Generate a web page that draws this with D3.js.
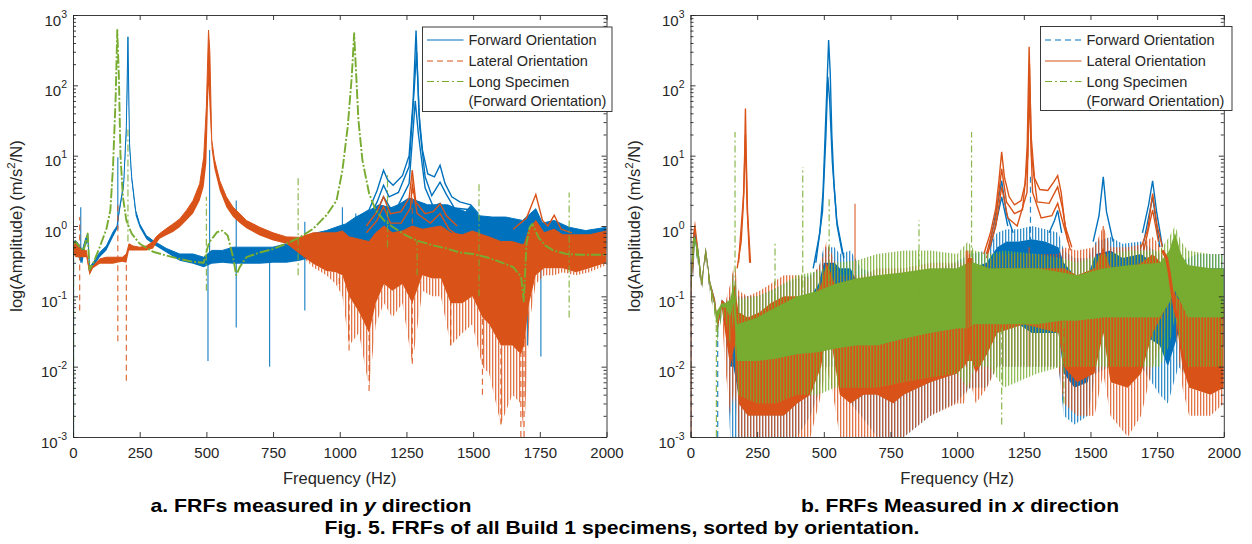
<!DOCTYPE html>
<html><head><meta charset="utf-8">
<script src="https://cdn.jsdelivr.net/npm/d3@7"></script>
<style>
body{margin:0;background:#fff;}
svg{display:block;font-family:"Liberation Sans",Arial,Helvetica,sans-serif;}
</style></head><body>
<svg id="c" width="1252" height="544"></svg>
<script>
// ---------------- DATA ----------------
const xTicks = [0,250,500,750,1000,1250,1500,1750,2000];
const yExps = [-3,-2,-1,0,1,2,3];
const seriesNames = ["Forward Orientation","Lateral Orientation","Long Specimen","(Forward Orientation)"];
const captionA = ["a. FRFs measured in ","y"," direction"];
const captionB = ["b. FRFs Measured in ","x"," direction"];
const captionFig = "Fig. 5. FRFs of all Build 1 specimens, sorted by orientation.";

// Panel a: bands [freq, lowSparse, lowDense, high]
const aFwdBand = [
 [2,0.40,0.40,0.60],[10,0.45,0.45,0.62],[20,0.36,0.36,0.56],[35,0.29,0.29,0.45],[45,0.50,0.50,0.62],
 [55,0.60,0.60,0.78],[62,0.21,0.21,0.26],[75,0.26,0.26,0.30],[100,0.36,0.36,0.42],[125,0.45,0.45,0.52],
 [150,0.70,0.70,0.82],[165,0.90,0.90,1.0],[175,1.6,1.6,1.85],[190,3.5,3.5,4.0],[200,18,18,26],
 [206,195,195,490],[212,12,12,14.7],[220,4.2,4.2,5],[235,1.4,1.4,1.66],[250,0.95,0.95,1.07],
 [275,0.65,0.65,0.73],[300,0.55,0.55,0.62],[350,0.42,0.42,0.48],[400,0.32,0.32,0.40],[450,0.29,0.29,0.40],
 [490,0.26,0.26,0.36],[520,0.29,0.29,0.45],[560,0.30,0.30,0.45],[600,0.29,0.29,0.50],[650,0.29,0.29,0.50],
 [700,0.29,0.29,0.50],[750,0.30,0.30,0.50],[800,0.30,0.30,0.56],[850,0.32,0.32,0.62],[900,0.36,0.36,0.78],
 [950,0.36,0.36,0.86],[985,0.40,0.40,0.96],[1022,0.36,0.36,1.07],[1060,0.45,0.45,1.34],[1110,0.5,0.5,1.66],
 [1147,0.5,0.5,2.0],[1200,0.5,0.5,1.8],[1260,0.5,0.5,2.5],[1330,0.5,0.5,2.0],[1404,0.5,0.5,2.0],
 [1435,0.5,0.5,1.8],[1472,0.45,0.45,1.6],[1491,0.5,0.5,1.95],[1522,0.45,0.45,1.4],[1572,0.40,0.40,1.34],
 [1622,0.38,0.38,1.34],[1685,0.38,0.38,1.2],[1735,0.5,0.5,1.76],[1760,0.42,0.42,1.1],[1804,0.45,0.45,1.2],
 [1860,0.40,0.40,0.96],[1922,0.35,0.35,0.86],[2000,0.45,0.45,0.96]
];
const aFwdRes1 = [[1060,1.3],[1110,1.7],[1140,3.2],[1164,6.2],[1180,4.5],[1200,3.8],[1235,5.2],[1260,10],[1275,60],[1286,600],[1297,40],[1310,12],[1330,5.5],[1355,5],[1376,7.3],[1395,4],[1420,2.6],[1450,2.2],[1491,2.0],[1520,1.5]];
const aFwdRes2 = [[1060,1.0],[1110,1.3],[1140,2.2],[1164,3.8],[1185,2.6],[1220,3],[1260,7],[1280,100],[1288,300],[1300,25],[1320,5],[1345,2.7],[1376,4.2],[1400,2.8],[1430,1.8],[1491,1.7],[1520,1.3]];
const aFwdRes3 = [[1060,0.8],[1110,1.0],[1140,1.6],[1164,2.6],[1190,1.8],[1220,2],[1260,4],[1283,60],[1295,20],[1320,3.5],[1350,1.9],[1376,2.1],[1410,1.5],[1450,1.2],[1520,1.0]];
const aFwdSpikes = [[2,0.001,0.5],[29,0.3,1.85],[168,0.9,9.5],[506,0.012,0.4],[512,0.3,12],[612,0.036,2.3],[737,0.01,0.4],[869,0.063,1.15],[1010,0.4,1.85],[1060,0.4,1.5],[1704,0.02,0.5],[1754,0.014,0.5]];

const aLatBand = [
 [2,0.40,0.40,0.60],[10,0.36,0.36,0.56],[20,0.36,0.36,0.5],[35,0.36,0.36,0.45],[50,0.36,0.36,0.45],
 [62,0.20,0.20,0.22],[75,0.25,0.25,0.27],[100,0.29,0.29,0.34],[125,0.29,0.29,0.36],[150,0.29,0.29,0.36],
 [165,0.30,0.30,0.36],[185,0.31,0.31,0.36],[200,0.3,0.3,0.4],[210,0.45,0.45,0.56],[225,0.45,0.45,0.52],
 [250,0.45,0.45,0.50],[275,0.45,0.45,0.52],[300,0.48,0.48,0.60],[310,0.55,0.55,0.69],[325,0.66,0.66,0.78],
 [350,0.74,0.74,0.92],[375,0.82,0.82,1.07],[400,0.96,0.96,1.26],[425,1.2,1.2,1.66],[450,1.5,1.5,2.3],
 [475,2.3,2.3,4.0],[490,3.6,3.6,9.5],[500,8,8,50],[508,100,100,611],[513,40,40,300],[520,12,12,17],
 [530,6.5,6.5,9],[550,3.2,3.2,4.4],[575,1.85,1.85,2.6],[600,1.34,1.34,1.85],[625,1.1,1.1,1.5],
 [650,0.93,0.93,1.2],[700,0.73,0.73,0.96],[750,0.62,0.62,0.80],[800,0.56,0.56,0.70],[850,0.40,0.40,0.69],
 [900,0.26,0.29,0.8],[950,0.2,0.23,0.8],[985,0.15,0.22,0.8],[1010,0.1,0.2,0.85],[1035,0.02,0.1,0.7],
 [1072,0.03,0.06,0.65],[1110,0.005,0.03,0.6],[1135,0.04,0.08,0.8],[1166,0.08,0.15,1.0],[1197,0.05,0.12,0.8],
 [1235,0.08,0.15,0.85],[1272,0.011,0.08,1.0],[1310,0.12,0.2,0.9],[1347,0.1,0.18,0.95],[1379,0.1,0.18,1.0],
 [1416,0.02,0.08,0.8],[1460,0.03,0.08,0.75],[1497,0.04,0.1,0.85],[1535,0.01,0.05,0.75],[1560,0.008,0.04,0.7],
 [1604,0.0015,0.02,0.6],[1647,0.004,0.02,0.6],[1679,0.003,0.015,0.55],[1691,0.001,0.02,0.55],[1710,0.04,0.08,0.9],
 [1735,0.15,0.2,1.2],[1766,0.2,0.25,0.8],[1804,0.2,0.25,0.9],[1835,0.22,0.25,0.75],[1885,0.2,0.22,0.75],
 [1935,0.22,0.25,0.75],[2000,0.28,0.3,0.85]
];
const aLatRes1 = [[1100,1.0],[1140,1.6],[1164,2.6],[1190,1.5],[1230,1.6],[1260,2.5],[1272,6.2],[1285,2.2],[1320,1.5],[1350,1.6],[1376,2.07],[1400,1.4],[1440,1.0]];
const aLatRes2 = [[1100,0.8],[1140,1.2],[1164,1.9],[1190,1.1],[1230,1.1],[1265,1.8],[1272,4],[1290,1.5],[1340,1.1],[1376,1.5],[1410,0.9],[1440,0.75]];
const aLatRes3 = [[1650,0.9],[1700,1.3],[1735,2.8],[1760,1.2],[1780,1.0],[1804,1.42],[1830,0.9],[1870,0.8]];
const aLatSpikes = [[25,0.063,1.34],[168,0.023,2.07],[200,0.0063,0.4],[998,0.15,0.4],[1035,0.017,0.3],[1110,0.0045,0.3],[1272,0.011,6.2],[1416,0.02,0.5],[1535,0.004,0.5],[1604,0.0015,0.5],[1679,0.001,0.5],[1691,0.001,0.5]];

const aLongLine = [
 [2,0.55],[10,0.6],[25,0.5],[40,0.45],[55,0.78],[62,0.24],[75,0.29],[100,0.5],[125,0.9],[140,1.66],
 [150,6.9],[160,70],[166,611],[172,132],[178,10],[187,2.6],[200,1.2],[220,0.78],[250,0.56],[300,0.43],
 [350,0.38],[400,0.34],[450,0.31],[490,0.3],[505,0.5],[512,0.6],[525,0.69],[540,0.82],[560,0.86],
 [580,0.73],[600,0.36],[612,0.2],[625,0.26],[650,0.36],[700,0.42],[750,0.47],[800,0.56],[850,0.69],
 [900,0.91],[950,1.42],[988,2.3],[1010,6.2],[1030,26],[1045,132],[1054,550],[1062,132],[1070,32],
 [1085,8.6],[1110,2.9],[1135,1.66],[1166,1.2],[1200,0.96],[1250,0.73],[1290,0.62],[1350,0.53],[1400,0.48],
 [1450,0.42],[1500,0.40],[1550,0.36],[1600,0.31],[1650,0.26],[1680,0.19],[1690,0.085],[1700,0.56],
 [1712,0.96],[1722,1.07],[1745,0.69],[1770,0.53],[1800,0.45],[1850,0.40],[1900,0.39],[2000,0.39]
];
const aLongSpikes = [[2,0.001,0.55],[206,0.6,26],[500,0.12,2.6],[844,0.2,5],[1179,0.5,5.5],[1290,0.2,0.62],[1522,0.1,4.2],[1860,0.05,3]];

// Panel b: bands [freq, lowSparse, lowDense, highDense, highSparse]
const bFwdBand = [
 [2,0.1,0.12,0.2,0.2],[10,0.2,0.3,0.7,0.7],[17,0.5,0.6,0.9,0.9],[30,0.25,0.3,0.45,0.45],[42,0.12,0.14,0.17,0.17],
 [57,0.35,0.42,0.5,0.5],[74,0.1,0.13,0.16,0.16],[92,0.06,0.07,0.09,0.09],[102,0.03,0.035,0.04,0.04],
 [117,0.05,0.07,0.09,0.09],[130,0.04,0.06,0.08,0.08],[149,0.001,0.01,0.06,0.1],[161,0.001,0.01,0.1,0.23],
 [180,0.001,0.004,0.04,0.1],[250,0.001,0.003,0.04,0.1],[300,0.001,0.003,0.05,0.12],[350,0.001,0.003,0.06,0.15],
 [400,0.001,0.004,0.08,0.18],[450,0.002,0.006,0.1,0.2],[480,0.004,0.01,0.15,0.25],[500,0.01,0.03,0.3,0.5],
 [540,0.01,0.03,0.3,0.5],[560,0.005,0.015,0.25,0.4],[600,0.003,0.01,0.25,0.45],[640,0.002,0.008,0.12,0.25],
 [700,0.001,0.005,0.1,0.2],[800,0.001,0.005,0.1,0.2],[900,0.002,0.006,0.12,0.22],[990,0.003,0.01,0.18,0.3],
 [1050,0.005,0.02,0.25,0.4],[1110,0.005,0.02,0.3,0.45],[1150,0.01,0.03,0.5,0.8],[1185,0.01,0.04,0.6,0.9],
 [1230,0.01,0.04,0.6,0.9],[1280,0.01,0.03,0.65,1.0],[1330,0.01,0.03,0.6,0.9],[1380,0.01,0.03,0.5,0.8],
 [1400,0.002,0.008,0.3,0.45],[1440,0.0015,0.005,0.2,0.35],[1490,0.002,0.006,0.2,0.35],[1520,0.008,0.03,0.4,0.6],
 [1575,0.01,0.03,0.45,0.7],[1620,0.01,0.03,0.35,0.56],[1690,0.01,0.03,0.4,0.6],[1760,0.004,0.02,0.25,0.4],
 [1790,0.003,0.01,0.15,0.3],[1830,0.01,0.03,0.2,0.3],[1900,0.005,0.02,0.25,0.4],[2000,0.005,0.02,0.25,0.4]
];
const bFwdRes1 = [[460,0.25],[485,0.8],[497,3],[505,20],[511,80],[518,440],[524,150],[530,20],[538,4],[550,1.0],[570,0.4]];
const bFwdRes2 = [[470,0.3],[495,1.6],[508,20],[515,132],[522,60],[532,8],[548,1.2],[575,0.35]];
const bFwdRes3 = [[1120,0.5],[1145,1.5],[1167,4.4],[1185,1.5],[1210,0.8]];
const bFwdRes4 = [[1125,0.5],[1150,1.3],[1167,2.6],[1190,1.0]];
const bFwdRes5 = [[1345,0.8],[1365,1.2],[1377,1.66],[1392,0.8]];
const bFwdRes6 = [[1510,0.6],[1532,1.4],[1548,5],[1560,1.6],[1585,0.6]];
const bFwdRes7 = [[1695,0.8],[1718,2.0],[1733,4.4],[1748,1.6],[1770,0.5]];
const bFwdRes8 = [[1700,0.6],[1733,2.6],[1760,0.5]];
const bFwdSpikes = [[2,0.001,0.2],[102,0.001,0.04],[1275,0.3,5.2]];

const bLatBand = [
 [2,0.1,0.12,0.2,0.2],[10,0.2,0.3,0.8,0.8],[17,0.6,0.8,1.2,1.2],[30,0.25,0.3,0.45,0.45],[42,0.12,0.14,0.17,0.17],
 [57,0.35,0.42,0.5,0.5],[74,0.1,0.13,0.16,0.16],[92,0.06,0.07,0.09,0.09],[102,0.03,0.035,0.045,0.045],
 [117,0.06,0.07,0.09,0.09],[130,0.01,0.03,0.08,0.08],[149,0.002,0.01,0.08,0.15],[165,0.005,0.02,0.15,0.3],
 [180,0.001,0.003,0.06,0.12],[215,0.001,0.002,0.05,0.1],[260,0.001,0.002,0.06,0.12],[300,0.001,0.002,0.08,0.15],
 [350,0.001,0.002,0.1,0.2],[400,0.001,0.003,0.1,0.2],[450,0.001,0.004,0.08,0.18],[490,0.004,0.01,0.15,0.3],
 [510,0.01,0.03,0.3,0.6],[530,0.005,0.02,0.2,0.4],[560,0.001,0.004,0.08,0.2],[600,0.001,0.003,0.08,0.2],
 [650,0.001,0.004,0.1,0.2],[700,0.001,0.004,0.12,0.25],[760,0.001,0.003,0.12,0.25],[800,0.001,0.004,0.12,0.25],
 [900,0.002,0.006,0.15,0.3],[1000,0.003,0.008,0.15,0.3],[1025,0.003,0.01,0.2,0.3],[1040,0.005,0.012,0.35,0.45],
 [1055,0.005,0.012,0.35,0.45],[1070,0.003,0.008,0.12,0.25],[1112,0.005,0.015,0.15,0.3],[1150,0.01,0.03,0.25,0.4],
 [1250,0.01,0.04,0.25,0.4],[1380,0.01,0.03,0.25,0.4],[1400,0.003,0.01,0.25,0.5],[1450,0.002,0.006,0.2,0.45],
 [1515,0.002,0.008,0.25,0.5],[1548,0.008,0.03,0.5,1.0],[1575,0.002,0.006,0.25,0.5],[1640,0.001,0.005,0.25,0.5],
 [1690,0.002,0.008,0.3,0.55],[1733,0.01,0.03,0.4,0.7],[1765,0.02,0.05,0.3,0.5],[1790,0.05,0.08,0.25,0.35],
 [1805,0.08,0.1,0.2,0.3],[1820,0.03,0.05,0.1,0.15],[1845,0.005,0.01,0.08,0.12],[1870,0.002,0.005,0.06,0.1],
 [1950,0.002,0.004,0.08,0.12],[2000,0.003,0.005,0.08,0.12]
];
const bLatRes1 = [[1100,0.4],[1125,0.8],[1145,1.8],[1157,4.5],[1167,11.3],[1177,5],[1195,2.6],[1215,2.0],[1240,2.3],[1255,4],[1263,15],[1270,354],[1277,20],[1290,4.8],[1310,3.3],[1340,3.2],[1362,4.2],[1377,5.2],[1390,3],[1405,1.0],[1430,0.5]];
const bLatRes2 = [[1110,0.4],[1145,1.3],[1167,6.5],[1185,2.2],[1215,1.5],[1245,1.7],[1265,10],[1271,200],[1279,10],[1300,2.2],[1345,2.1],[1377,3.6],[1395,1.8],[1415,0.6]];
const bLatRes3 = [[1110,0.35],[1145,1.0],[1167,3.6],[1190,1.3],[1225,1.0],[1262,3],[1270,80],[1283,3],[1315,1.3],[1355,1.4],[1377,2.1],[1400,1.0],[1425,0.45]];
const bLatRes4 = [[1690,0.5],[1715,0.9],[1733,2.9],[1750,1.0],[1770,0.5]];
const bLatRes5 = [[1700,0.45],[1733,1.7],[1755,0.6]];
const bLatRes6 = [[175,0.25],[190,0.6],[198,2],[203,10],[206,47],[209,10],[214,1.5],[225,0.3]];
const bLatRes7 = [[180,0.3],[200,3],[206,20],[212,2],[222,0.3]];
const bLatSpikes = [[2,0.001,0.2],[617,0.05,2.07],[1270,0.01,0.5],[1548,0.04,1.0]];
// orange parts that sit in front of the green mass
const bLatFront = [[1770,0.45],[1785,0.35],[1795,0.22],[1805,0.12],[1815,0.07],[1825,0.05]];
const bLatFrontSpikes = [[1034,0.01,0.45],[1040,0.012,0.45],[1046,0.015,0.4],[1052,0.02,0.35]];

const bLongBand = [
 [2,0.1,0.12,0.2,0.2],[10,0.3,0.4,0.69,0.69],[17,0.5,0.6,0.69,0.69],[30,0.25,0.3,0.45,0.45],[42,0.12,0.14,0.17,0.17],
 [57,0.35,0.42,0.5,0.5],[74,0.1,0.13,0.16,0.16],[92,0.05,0.07,0.08,0.08],[97,0.02,0.04,0.06,0.06],
 [117,0.05,0.07,0.08,0.08],[130,0.05,0.07,0.08,0.08],[149,0.02,0.05,0.09,0.09],[161,0.05,0.08,0.15,0.23],
 [175,0.004,0.012,0.04,0.09],[250,0.003,0.012,0.05,0.1],[320,0.003,0.013,0.07,0.13],[400,0.004,0.015,0.1,0.2],
 [480,0.004,0.016,0.12,0.23],[540,0.005,0.018,0.15,0.3],[620,0.005,0.02,0.18,0.32],[700,0.005,0.02,0.2,0.4],
 [800,0.006,0.025,0.22,0.45],[900,0.007,0.03,0.25,0.45],[1000,0.008,0.035,0.25,0.4],[1040,0.005,0.035,0.3,0.6],
 [1065,0.01,0.04,0.3,0.45],[1120,0.01,0.04,0.25,0.4],[1175,0.005,0.04,0.25,0.45],[1300,0.008,0.04,0.25,0.4],
 [1390,0.01,0.045,0.22,0.35],[1450,0.01,0.045,0.2,0.3],[1550,0.01,0.05,0.25,0.4],[1650,0.01,0.05,0.28,0.45],
 [1760,0.01,0.05,0.3,0.45],[1795,0.02,0.08,0.45,0.7],[1817,0.05,0.12,0.8,1.0],[1840,0.02,0.08,0.4,0.6],
 [1865,0.01,0.05,0.28,0.45],[1950,0.01,0.05,0.25,0.4],[2000,0.01,0.05,0.25,0.4]
];
const bLongSpikes = [[97,0.001,0.06],[167,0.05,21.7],[317,0.02,0.56],[421,0.05,6.9],[520,0.1,2.6],[857,0.1,1.2],[1054,0.05,21.7],[1167,0.0015,0.2],[1400,0.003,0.1]];

// ---------------- STYLE / LAYOUT ----------------
const COL = {fwd:"#0072BD", lat:"#D95319", long:"#77AC30"};
const DASH = {solid:null, dash:"6,4", dashdot:"7,3,2,3", densedashdot:"10,2,2,2"};
const AX = "#262626";
const svg = d3.select("#c");
const defs = svg.append("defs");
const yTop = 15, yBot = 437;

Object.entries(COL).forEach(([k,c])=>{
  const p = defs.append("pattern").attr("id","hatch-"+k).attr("patternUnits","userSpaceOnUse")
    .attr("width",3).attr("height",12);
  p.append("rect").attr("x",0).attr("y",0).attr("width",1.3).attr("height",12).attr("fill",c).attr("fill-opacity",0.8);
});
const keyOf = c => Object.keys(COL).find(k=>COL[k]===c);

const panels = [
 {key:"a", x0:73, x1:606.5, ylab:22,
  legend:{x:422.5, y:27, w:189.5, h:84.5, styles:["solid","dash","dashdot"]},
  layers:[
   {c:COL.fwd, band:aFwdBand, lines:[aFwdRes3,aFwdRes2,aFwdRes1], spikes:aFwdSpikes, dash:"solid"},
   {c:COL.lat, band:aLatBand, lines:[aLatRes2,aLatRes1,aLatRes3], spikes:aLatSpikes, dash:"dash"},
   {c:COL.long, line:aLongLine, spikes:aLongSpikes, dash:"dashdot"}
  ]},
 {key:"b", x0:690.5, x1:1223.8, ylab:640,
  legend:{x:1040.5, y:26.5, w:191.5, h:84, styles:["dash","solid","dashdot"]},
  layers:[
   {c:COL.fwd, band:bFwdBand, lines:[bFwdRes1,bFwdRes2,bFwdRes3,bFwdRes4,bFwdRes5,bFwdRes6,bFwdRes7,bFwdRes8], spikes:bFwdSpikes, dash:"dash"},
   {c:COL.lat, band:bLatBand, lines:[bLatRes6,bLatRes7,bLatRes3,bLatRes2,bLatRes1,bLatRes4,bLatRes5], spikes:bLatSpikes, dash:"solid"},
   {c:COL.long, band:bLongBand, spikes:bLongSpikes, dash:"dashdot"},
   {c:COL.lat, lines:[bLatFront], lw:3, spikes:bLatFrontSpikes, dash:"solid"}
  ]}
];

panels.forEach(P=>{
  const x = d3.scaleLinear().domain([0,2000]).range([P.x0,P.x1]);
  const y = d3.scaleLog().domain([1e-3,1e3]).range([yBot,yTop]).clamp(true);
  defs.append("clipPath").attr("id","clip"+P.key).append("rect")
    .attr("x",P.x0).attr("y",yTop).attr("width",P.x1-P.x0).attr("height",yBot-yTop);
  const plot = svg.append("g").attr("clip-path",`url(#clip${P.key})`);

  P.layers.forEach(L=>{
    if(L.band){
      const rows = L.band.map(r=>r.length===4?[r[0],r[1],r[2],r[3],r[3]]:r);
      const mk = (a,b)=>d3.area().x(d=>x(d[0])).y0(d=>y(d[a])).y1(d=>y(d[b]))(rows);
      plot.append("path").attr("d",mk(1,2)).attr("fill",`url(#hatch-${keyOf(L.c)})`);
      plot.append("path").attr("d",mk(3,4)).attr("fill",`url(#hatch-${keyOf(L.c)})`);
      plot.append("path").attr("d",mk(2,3)).attr("fill",L.c);
      if(L.band[0].length===4)
        plot.append("path").attr("d",d3.line().x(d=>x(d[0])).y(d=>y(d[3]))(rows))
          .attr("fill","none").attr("stroke",L.c).attr("stroke-width",1);
    }
    (L.lines||[]).forEach(arr=>{
      plot.append("path").attr("d",d3.line().x(d=>x(d[0])).y(d=>y(d[1]))(arr))
        .attr("fill","none").attr("stroke",L.c).attr("stroke-width",L.lw||1.4);
    });
    if(L.line){
      plot.append("path").attr("d",d3.line().x(d=>x(d[0])).y(d=>y(d[1]))(L.line))
        .attr("fill","none").attr("stroke",L.c).attr("stroke-width",1.9).attr("stroke-linejoin","round")
        .attr("stroke-dasharray",DASH.densedashdot);
    }
    if(L.spikes){
      plot.selectAll(null).data(L.spikes).enter().append("line")
        .attr("x1",d=>x(d[0])).attr("x2",d=>x(d[0]))
        .attr("y1",d=>y(d[1])).attr("y2",d=>y(d[2]))
        .attr("stroke",L.c).attr("stroke-width",1.2).attr("stroke-opacity",0.85)
        .attr("stroke-dasharray",DASH[L.dash]);
    }
  });

  // axes
  const minor = [];
  for(let e=-3;e<3;e++) for(let k=2;k<=9;k++) minor.push(k*Math.pow(10,e));
  const decades = yExps.map(e=>Math.pow(10,e));
  const ax = svg.append("g").attr("class","axes");
  const styleAxis = g=>{ g.select(".domain").attr("stroke",AX).attr("stroke-width",0.9);
    g.selectAll(".tick line").attr("stroke",AX).attr("stroke-width",0.9); };
  ax.append("g").attr("transform",`translate(0,${yBot})`)
    .call(d3.axisBottom(x).tickValues(xTicks).tickFormat(d=>String(d)).tickSizeInner(-5).tickSizeOuter(0).tickPadding(10))
    .call(styleAxis)
    .call(g=>g.selectAll(".tick text").attr("fill",AX).attr("font-size",15).attr("font-family","Liberation Sans, Arial, sans-serif"));
  ax.append("g").attr("transform",`translate(0,${yTop})`)
    .call(d3.axisTop(x).tickValues(xTicks).tickSizeInner(-5).tickSizeOuter(0).tickFormat(""))
    .call(styleAxis);
  ax.append("g").attr("transform",`translate(${P.x0},0)`)
    .call(d3.axisLeft(y).tickValues(decades).tickSizeInner(-5).tickSizeOuter(0).tickFormat(""))
    .call(styleAxis)
    .call(g=>{
      g.selectAll(".tick").append("text")
        .attr("x",-6).attr("y",10).attr("text-anchor","end").attr("fill",AX)
        .attr("font-size",15).attr("font-family","Liberation Sans, Arial, sans-serif")
        .each(function(d){
          const t=d3.select(this);
          t.append("tspan").text("10");
          t.append("tspan").attr("dy",-8).attr("font-size",10.5).text(String(Math.round(Math.log10(d))));
        });
    });
  ax.append("g").attr("transform",`translate(${P.x0},0)`)
    .call(d3.axisLeft(y).tickValues(minor).tickSizeInner(-3).tickSizeOuter(0).tickFormat(""))
    .call(styleAxis).call(g=>g.select(".domain").remove());
  ax.append("g").attr("transform",`translate(${P.x1},0)`)
    .call(d3.axisRight(y).tickValues(decades).tickSizeInner(-5).tickSizeOuter(0).tickFormat(""))
    .call(styleAxis);
  ax.append("g").attr("transform",`translate(${P.x1},0)`)
    .call(d3.axisRight(y).tickValues(minor).tickSizeInner(-3).tickSizeOuter(0).tickFormat(""))
    .call(styleAxis).call(g=>g.select(".domain").remove());

  // axis labels
  svg.append("text").attr("x",(P.x0+P.x1)/2).attr("y",484).attr("text-anchor","middle")
    .attr("font-size",16.5).attr("fill",AX).text("Frequency (Hz)");
  const yl = svg.append("text").attr("transform",`translate(${P.ylab},${(yTop+yBot)/2}) rotate(-90)`)
    .attr("text-anchor","middle").attr("font-size",16.5).attr("fill",AX);
  yl.append("tspan").text("log(Amplitude) (m/s");
  yl.append("tspan").attr("dy",-7).attr("font-size",11.5).text("2");
  yl.append("tspan").attr("dy",7).text("/N)");

  // legend
  const Lg = P.legend;
  const lg = svg.append("g");
  lg.append("rect").attr("x",Lg.x).attr("y",Lg.y).attr("width",Lg.w).attr("height",Lg.h)
    .attr("fill","#fff").attr("stroke",AX).attr("stroke-width",0.9);
  const rowsY = [40,61,81.5,101];
  const cols = [COL.fwd,COL.lat,COL.long];
  [0,1,2].forEach(i=>{
    lg.append("line").attr("x1",Lg.x+4.5).attr("x2",Lg.x+41).attr("y1",rowsY[i]).attr("y2",rowsY[i])
      .attr("stroke",cols[i]).attr("stroke-width",1.2).attr("stroke-dasharray",DASH[Lg.styles[i]]);
  });
  seriesNames.forEach((s,i)=>{
    lg.append("text").attr("x",Lg.x+46).attr("y",rowsY[i]+5).attr("font-size",14.5).attr("fill",AX).text(s);
  });
});

// captions
function caption(parts, cx, yb, w){
  const t = svg.append("text").attr("x",cx).attr("y",yb).attr("text-anchor","middle")
    .attr("font-size",19).attr("font-weight","bold").attr("fill","#000")
    .attr("textLength",w).attr("lengthAdjust","spacingAndGlyphs");
  parts.forEach((p,i)=>t.append("tspan").attr("font-style",i===1?"italic":"normal").text(p));
}
caption(captionA, 311, 512, 321);
caption(captionB, 960, 512, 318);
caption([captionFig], 622, 534, 595);
</script>
</body></html>
